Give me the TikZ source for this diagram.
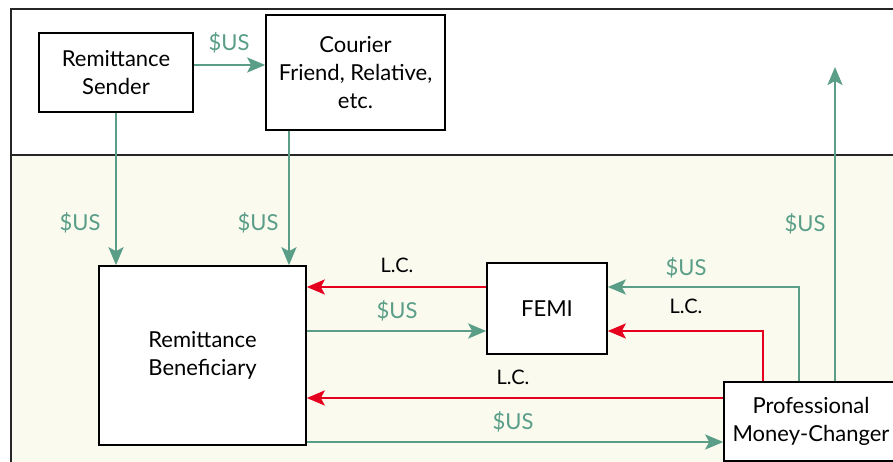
\documentclass[tikz,border=0pt]{standalone}
\usepackage{fontspec}
\setmainfont{Lato}
\usetikzlibrary{arrows.meta,calc}
\definecolor{flowgreen}{HTML}{5A9E88}
\definecolor{flowred}{HTML}{E5001E}
\definecolor{zonefill}{HTML}{FAFAEF}
\tikzset{
  box/.style={draw=black, line width=1.6pt, fill=white, inner sep=0pt,
    align=center, font=\fontsize{22}{28}\selectfont},
  usd/.style={draw=flowgreen, line width=2.4pt,
    -{Stealth[length=18pt,width=15pt,inset=4pt]}},
  lc/.style={draw=flowred, line width=2.4pt,
    -{Stealth[length=18pt,width=15pt,inset=4pt]}},
  usdlabel/.style={text=flowgreen, font=\fontsize{22}{24}\selectfont, inner sep=0pt},
  lclabel/.style={text=black, font=\fontsize{20}{22}\selectfont, inner sep=0pt},
}
\begin{document}
\begin{tikzpicture}[x=1pt, y=-1pt]
\useasboundingbox (0,0) rectangle (893,462);
\begin{scope}
\clip (0,0) rectangle (893,462);
% two zones: the sending side above, the receiving country below
\fill[white] (0,0) rectangle (893,462);
\fill[zonefill] (11,155) rectangle (910,480);
\draw[line width=1.6pt, black!85] (11,480) -- (11,9) -- (910,9);
\draw[line width=1.6pt, black!85] (11,155) -- (910,155);

% participants
\node[box, minimum width=154pt, minimum height=79pt] (sender) at (116,72.5) {Remittance\\Sender};
\node[box, minimum width=179pt, minimum height=115pt] (courier) at (355.5,72.5) {Courier\\Friend, Relative,\\etc.};
\node[box, minimum width=207pt, minimum height=179pt] (benef) at (202.5,355.5) {Remittance\\Beneficiary};
\node[box, minimum width=120pt, minimum height=91pt] (femi) at (547,308.5) {FEMI};
\node[box, minimum width=174pt, minimum height=79pt] (pmc) at (811,421.5) {Professional\\Money-Changer};
\coordinate (abroad) at (835,67);

% flows of dollars and local currency
\draw[usd] (sender.east |- 0,65) -- (courier.west |- 0,65);
\draw[usd] (sender.south) -- (benef.north -| sender.south);
\draw[usd] (courier.south -| 289,0) -- (benef.north -| 289,0);
\draw[lc] (femi.west |- 0,287) -- (benef.east |- 0,287);
\draw[usd] (benef.east |- 0,331) -- (femi.west |- 0,331);
\draw[usd] (pmc.north -| 799,0) |- (femi.east |- 0,287);
\draw[lc] (pmc.north -| 763,0) |- (femi.east |- 0,331);
\draw[lc] (pmc.west |- 0,398) -- (benef.east |- 0,398);
\draw[usd] (benef.east |- 0,442) -- (pmc.west |- 0,442);
\draw[usd] (pmc.north -| abroad) -- (abroad);

% flow labels
\node[usdlabel] (l1) at (229,43) {\$US};
\node[usdlabel] (l2) at (80,223) {\$US};
\node[usdlabel] (l3) at (258,223) {\$US};
\node[lclabel] (l4) at (397,265) {L.C.};
\node[usdlabel] (l5) at (397,311) {\$US};
\node[usdlabel] (l6) at (686,268) {\$US};
\node[lclabel] (l7) at (686,306) {L.C.};
\node[lclabel] (l8) at (513,377) {L.C.};
\node[usdlabel] (l9) at (513,422) {\$US};
\node[usdlabel] (l10) at (805,224) {\$US};
\end{scope}
\end{tikzpicture}
\end{document}
